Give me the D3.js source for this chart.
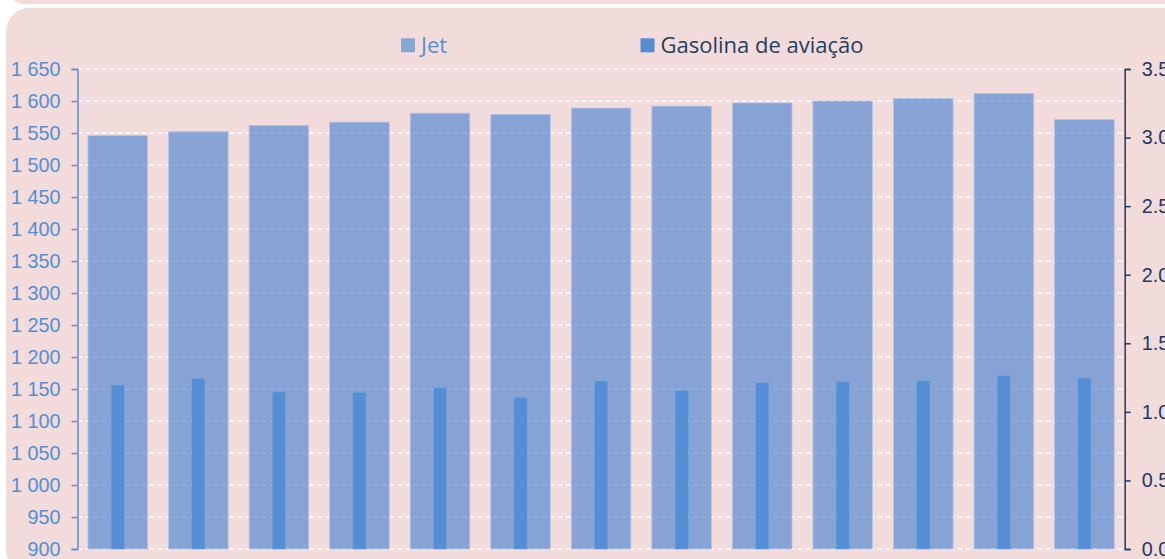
<!DOCTYPE html>
<html lang="pt">
<head>
<meta charset="UTF-8">
<title>Jet e Gasolina de aviação</title>
<script src="https://cdn.jsdelivr.net/npm/d3@7"></script>
<style>
  body { margin: 0; background: #fff; }
</style>
</head>
<body>
<script>
    var width = 1165
    var height = 559

    // dados
    var categorias = ['1', '2', '3', '4', '5', '6', '7', '8', '9', '10', '11', '12', '13']
    var jet = [1546, 1552, 1562, 1567, 1581, 1579, 1589, 1592, 1597, 1600, 1604, 1612, 1571]
    var gasolina = [1.196, 1.245, 1.145, 1.143, 1.176, 1.106, 1.225, 1.154, 1.213, 1.223, 1.227, 1.264, 1.247]
    var ticksEsq = [900, 950, 1000, 1050, 1100, 1150, 1200, 1250, 1300, 1350, 1400, 1450, 1500, 1550, 1600, 1650]
    var ticksDir = [0, 0.5, 1.0, 1.5, 2.0, 2.5, 3.0, 3.5]

    var mEsq = 77.5, mDir = 1124.7, mTopo = 69, mBase = 549

    var svg = d3.select('body')
        .append('svg')
        .attr('width', width)
        .attr('height', height)

    // fundos
    svg.append('rect')
        .attr('x', 6).attr('y', -40)
        .attr('width', 1200).attr('height', 44.3)
        .attr('rx', 20)
        .attr('fill', '#f2dcdb')
    svg.append('rect')
        .attr('x', 6).attr('y', 7.7)
        .attr('width', 1200).attr('height', 566)
        .attr('rx', 24)
        .attr('fill', '#f2dcdb')

    var x = d3.scaleBand()
        .domain(categorias)
        .range([mEsq, mDir])
        .paddingInner(0.26)
        .paddingOuter(0.13)

    var yEsq = d3.scaleLinear().domain([900, 1650]).range([mBase, mTopo])
    var yDir = d3.scaleLinear().domain([0, 3.5]).range([mBase, mTopo])

    // grelha
    svg.append('g')
        .selectAll('line')
        .data(ticksEsq)
        .enter()
        .append('line')
        .attr('x1', mEsq).attr('x2', mDir)
        .attr('y1', function (d) { return yEsq(d) })
        .attr('y2', function (d) { return yEsq(d) })
        .attr('stroke', '#fff')
        .attr('stroke-width', 1.5)
        .attr('stroke-dasharray', '5,3')

    // Jet (semi-transparente)
    svg.append('g')
        .selectAll('rect')
        .data(jet)
        .enter()
        .append('rect')
        .attr('x', function (d, i) { return x(categorias[i]) })
        .attr('width', x.bandwidth())
        .attr('y', function (d) { return yEsq(d) })
        .attr('height', function (d) { return mBase - yEsq(d) })
        .attr('fill', '#4f85d1')
        .attr('fill-opacity', 0.66)
        .attr('stroke', '#b4c6e6')
        .attr('stroke-width', 0.8)

    // Gasolina de aviação
    var w2 = 13.3
    svg.append('g')
        .selectAll('rect')
        .data(gasolina)
        .enter()
        .append('rect')
        .attr('x', function (d, i) { return x(categorias[i]) + x.bandwidth() / 2 - w2 / 2 })
        .attr('width', w2)
        .attr('y', function (d) { return yDir(d) })
        .attr('height', function (d) { return mBase - yDir(d) })
        .attr('fill', '#558ed5')
        .attr('stroke', '#7aa5dd')
        .attr('stroke-width', 0.6)

    // eixo esquerdo
    var fmt = function (d) { return d3.format(',')(d).replace(',', ' ') }
    var eixoEsq = svg.append('g')
        .attr('transform', 'translate(' + mEsq + ',0)')
        .call(d3.axisLeft(yEsq).tickValues(ticksEsq).tickSize(6).tickSizeOuter(6).tickPadding(11).tickFormat(fmt))
    eixoEsq.selectAll('path, line').attr('stroke', '#558ed5').attr('stroke-width', 1.5)
    eixoEsq.selectAll('text')
        .attr('fill', '#558ed5')
        .style('font-family', '"Liberation Sans", Arial, sans-serif')
        .style('font-size', '19.8px')

    // eixo direito
    var eixoDir = svg.append('g')
        .attr('transform', 'translate(' + mDir + ',0)')
        .call(d3.axisRight(yDir).tickValues(ticksDir).tickSize(6).tickSizeOuter(6).tickPadding(11).tickFormat(d3.format('.1f')))
    eixoDir.selectAll('path, line').attr('stroke', '#1f3864').attr('stroke-width', 1.5)
    eixoDir.selectAll('text')
        .attr('fill', '#1f3864')
        .style('font-family', '"Liberation Sans", Arial, sans-serif')
        .style('font-size', '19.8px')

    // legenda
    var legenda = [
        {nome: 'Jet', x: 401, cor: '#86a6d6', texto: '#558ed5'},
        {nome: 'Gasolina de aviação', x: 640.5, cor: '#558ed5', texto: '#243f60'}
    ]
    var leg = svg.append('g')
        .selectAll('g')
        .data(legenda)
        .enter()
        .append('g')
    leg.append('rect')
        .attr('x', function (d) { return d.x })
        .attr('y', 38.3)
        .attr('width', 14).attr('height', 14)
        .attr('fill', function (d) { return d.cor })
    leg.append('text')
        .attr('x', function (d) { return d.x + 20 })
        .attr('y', 52.8)
        .attr('fill', function (d) { return d.texto })
        .style('font-family', '"Open Sans", sans-serif')
        .style('font-size', '22px')
        .text(function (d) { return d.nome })
</script>
</body>
</html>
